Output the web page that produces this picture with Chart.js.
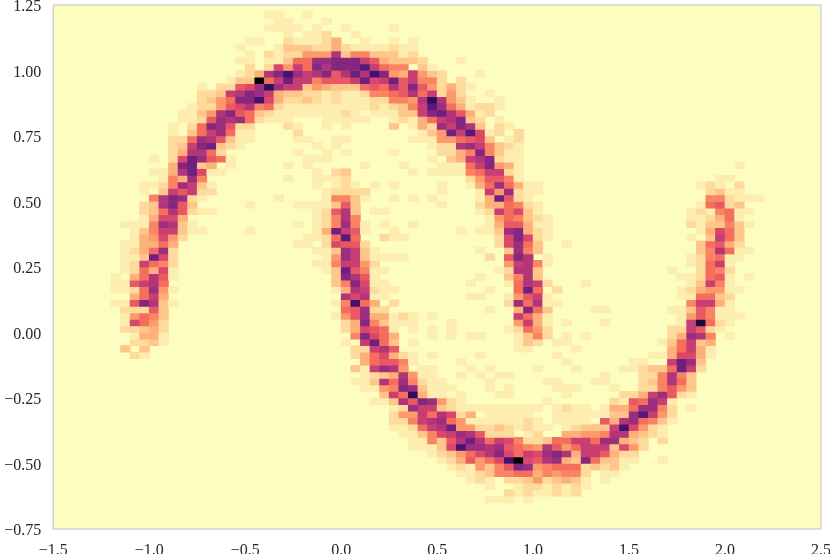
<!DOCTYPE html>
<html>
<head>
<meta charset="utf-8">
<style>
html, body { margin: 0; padding: 0; background: #fff; }
canvas { display: block; }
</style>
<script src="https://cdn.jsdelivr.net/npm/chart.js@4"></script>
</head>
<body>
<canvas id="hist" width="830" height="554"></canvas>
<script>
// tick labels
const xTickLabels = ['\u22121.5', '\u22121.0', '\u22120.5', '0.0', '0.5', '1.0', '1.5', '2.0', '2.5'];
const yTickLabels = ['\u22120.75', '\u22120.50', '\u22120.25', '0.00', '0.25', '0.50', '0.75', '1.00', '1.25'];

// bins: 80 x 80 over the axis range
const xBinStart = -1.5, xBinSize = 0.05, xBinCount = 80;
const yBinTop = 1.25, yBinSize = 0.025;

// counts, one entry per row from the top.
// each row is pairs of (first column, run of base-36 counts), empty cells left out
const rowRuns = [
  [],
  [22,'11', 26,'1'],
  [23,'11', 28,'1'],
  [22,'1111', 27,'1', 30,'1', 35,'1'],
  [24,'1', 26,'112', 31,'1'],
  [20,'11', 24,'211124', 32,'1', 35,'1', 37,'1'],
  [19,'1', 23,'133322421111211'],
  [20,'1', 22,'2122555b36633312'],
  [19,'11', 22,'11377ccddda843332', 42,'1'],
  [20,'2', 22,'295a7dbdddfa766', 38,'31'],
  [19,'124bdgcabd8bebgd54a532', 44,'1'],
  [18,'133k7aeaa6888ae9ae8a662', 42,'2'],
  [15,'1', 17,'2289chcaa354333787b8d852421'],
  [15,'223abdca43322121126678b7a252', 45,'1'],
  [15,'2357ddg9422321211122665bhb531', 46,'1'],
  [14,'122589b67211111111121236afc741221'],
  [13,'1135bd873211111112101113' + '3adeb8412'],
  [13,'1128cbc72111', 28,'11111', 35,'12147abd32', 46,'1'],
  [12,'1', 14,'27dc822', 24,'21', 28,'1', 30,'1', 35,'3', 37,'142cadb3', 46,'21'],
  [12,'1', 14,'37ac711', 25,'2', 38,'135eaf912', 48,'2'],
  [12,'227cb8311', 25,'11', 29,'11', 37,'111557893', 47,'12'],
  [12,'23ade321', 27,'1', 29,'1', 39,'122bca6321'],
  [12,'24bb72', 25,'1', 28,'1', 30,'1', 35,'1', 40,'2246d6311'],
  [10,'1', 12,'29ec871', 26,'111', 39,'1', 41,'34abd211'],
  [12,'4de34', 18,'1', 24,'1', 26,'1', 32,'1', 36,'1', 40,'1117ad541', 71,'1'],
  [10,'114be911', 27,'1', 29,'23', 37,'1', 39,'111167aa21'],
  [11,'164c6', 24,'1', 27,'1112', 43,'258861', 69,'11'],
  [9,'1126ca31', 27,'1', 29,'121', 33,'1', 35,'1', 40,'1', 43,'147c7411', 67,'121', 71,'2'],
  [9,'1', 11,'3a8a22', 28,'12222', 40,'1', 44,'1a5c211', 68,'2311'],
  [10,'6bdc21', 23,'1', 28,'16631', 35,'1', 37,'1', 39,'1', 44,'14e821', 68,'662111'],
  [9,'23bd83', 20,'1', 25,'1111383', 40,'1', 44,'2447621', 67,'17823'],
  [9,'237b8211', 27,'128b3', 33,'11', 44,'12a7931', 66,'1216711'],
  [9,'14994', 27,'126b6', 45,'1576321', 66,'112471'],
  [7,'1116cb31', 25,'1', 27,'126c61', 34,'1', 37,'1', 45,'1488411', 66,'2133631'],
  [8,'136aa311', 20,'1', 27,'14ea81', 35,'1', 42,'1', 44,'113cd421', 67,'14973'],
  [8,'145952', 26,'1127f7', 34,'211', 46,'29d921', 66,'1', 68,'3a73'],
  [7,'114474', 25,'11', 28,'29882', 46,'29c73', 53,'1', 67,'37842'],
  [7,'1247c2', 27,'113ca31', 44,'1', 47,'3c63', 67,'36b711'],
  [7,'113e92', 28,'15ca31111', 45,'2', 47,'8db', 51,'1', 66,'126711'],
  [7,'12a762', 27,'116aa52', 47,'5ab61', 66,'127a1'],
  [7,'127491', 28,'13e8611', 46,'12bb3', 64,'1', 67,'2762'],
  [6,'1', 8,'47b81', 29,'3db81', 44,'1', 47,'36b3', 65,'112781', 72,'1'],
  [6,'118ab7', 29,'36d911', 43,'1', 47,'17ba2', 55,'1', 66,'13a61'],
  [6,'1127c51', 29,'14ba211', 45,'1', 48,'7e7', 52,'2', 65,'1245511'],
  [8,'47a4', 30,'b9b11', 43,'11', 47,'158a1', 65,'117732'],
  [6,'118db31', 29,'16g74', 35,'2', 47,'2c7b11', 66,'6aa41'],
  [7,'22283', 30,'78c22', 45,'1', 48,'4d73', 56,'11', 64,'1138611'],
  [7,'15763', 29,'158c44121', 39,'1', 48,'a741', 65,'1586111'],
  [7,'19752', 30,'24d63111', 41,'1', 48,'5a41', 53,'1', 57,'1', 65,'1ai721'],
  [7,'22342', 30,'249871', 37,'1', 39,'1', 41,'1', 47,'12752', 64,'22a821'],
  [8,'1441', 31,'6d974', 39,'1', 41,'1', 43,'11', 48,'1362', 53,'1', 55,'1', 64,'24cb6', 70,'1'],
  [8,'2231', 30,'1', 32,'ae73', 37,'1', 48,'132', 52,'11', 63,'137a34'],
  [7,'3', 9,'3', 31,'22ab8', 48,'11', 54,'1', 64,'47a41'],
  [8,'21', 31,'2479421', 39,'1', 44,'1', 52,'1', 62,'1149941'],
  [32,'478861', 42,'1', 53,'1', 60,'11', 64,'aec3'],
  [31,'31acb5', 38,'11', 43,'1', 45,'1', 50,'1', 54,'1', 59,'112337ea2'],
  [32,'1234b511', 42,'1', 44,'1', 46,'11', 57,'1', 61,'226b63'],
  [31,'113b7c6211', 45,'1', 51,'11', 56,'11', 61,'236b73'],
  [32,'1156dc3111', 45,'1', 47,'1', 52,'111', 58,'1', 61,'226853'],
  [34,'3a7h411', 42,'1', 46,'11', 53,'1', 59,'224ac821'],
  [33,'113b8dc521', 51,'1', 58,'2187ca1'],
  [35,'12caa32111111111', 52,'1211', 57,'1447cc62', 66,'1'],
  [35,'255a7b924', 45,'11111', 52,'111111', 58,'33cfa52'],
  [35,'226abc7511111121', 52,'1111', 57,'84bc7631'],
  [35,'1127abe5522321211', 53,'12333ag9521'],
  [36,'11369acb8222', 49,'12', 53,'44556bb4321'],
  [37,'11638beb7a9622377aa7cc432', 63,'2'],
  [37,'11139gccbc8765b857aaa3952'],
  [39,'123579bd97a9cdb4aa8422'],
  [40,'1248579gk98bc43d73311', 63,'1'],
  [41,'1215368dc5677723231'],
  [42,'11236677465662', 57,'11'],
  [43,'121', 47,'223523431', 57,'1'],
  [45,'1', 48,'12212121'],
  [47,'21211212'],
  [45,'111', 49,'1']
];
const maxCount = 20;

// magma_r
const magmaStops = ['#fcfdbf','#fecf92','#fe9f6d','#f7705c','#de4968','#b73779','#8c2981','#641a80','#3b0f70','#140e36','#000004'];

function hexToRgb(h) {
  return [1, 3, 5].map(i => parseInt(h.slice(i, i + 2), 16));
}
function countColor(v) {
  const p = Math.pow(v / maxCount, 1.12) * (magmaStops.length - 1);
  const i = Math.min(Math.floor(p), magmaStops.length - 2);
  const a = hexToRgb(magmaStops[i]), b = hexToRgb(magmaStops[i + 1]);
  const c = a.map((n, k) => Math.round(n + (b[k] - n) * (p - i)));
  return 'rgb(' + c.join(',') + ')';
}

const xLabels = [];
for (let c = 0; c < xBinCount; c++) xLabels.push((xBinStart + (c + 0.5) * xBinSize).toFixed(3));

// one floating-bar dataset per histogram row
const datasets = rowRuns.map((runs, r) => {
  const top = yBinTop - r * yBinSize;
  const data = new Array(xBinCount).fill(null);
  const colors = new Array(xBinCount).fill('rgba(0,0,0,0)');
  for (let s = 0; s < runs.length; s += 2) {
    const digits = runs[s + 1];
    for (let k = 0; k < digits.length; k++) {
      const v = parseInt(digits[k], 36);
      if (v > 0) {
        data[runs[s] + k] = [top - yBinSize, top];
        colors[runs[s] + k] = countColor(v);
      }
    }
  }
  return { data: data, backgroundColor: colors, borderWidth: 0, grouped: false,
           barPercentage: 1, categoryPercentage: 1, xAxisID: 'x', yAxisID: 'y' };
});

const frame = {
  id: 'frame',
  beforeDraw(chart) {
    // liberation serif sits a bit high on 'middle'
    chart.scales.y.getLabelItems().forEach(item => { item.textOffset = 2; });
  },
  beforeDatasetsDraw(chart) {
    const a = chart.chartArea, ctx = chart.ctx;
    ctx.save();
    ctx.fillStyle = magmaStops[0];
    ctx.fillRect(a.left, a.top, a.width, a.height);
    ctx.restore();
  },
  afterDraw(chart) {
    const a = chart.chartArea, ctx = chart.ctx;
    ctx.save();
    ctx.strokeStyle = '#cccccc';
    ctx.lineWidth = 1.25;
    ctx.strokeRect(a.left, a.top, a.width, a.height);
    ctx.restore();
  }
};

const tickFont = { family: '"Liberation Serif"', size: 16 };

// labels may hang past the plot area, as in the reference
function noOverhang(s) {
  s.paddingLeft = s.paddingRight = s.paddingTop = s.paddingBottom = 0;
}

new Chart(document.getElementById('hist'), {
  type: 'bar',
  data: { labels: xLabels, datasets: datasets },
  plugins: [frame],
  options: {
    responsive: false,
    animation: false,
    events: [],
    layout: { autoPadding: false, padding: { left: 0, right: 9, top: 5, bottom: 0 } },
    plugins: { legend: { display: false }, tooltip: { enabled: false } },
    scales: {
      x: { type: 'category', display: false },
      xTicks: {
        type: 'linear', axis: 'x', position: 'bottom', min: -1.5, max: 2.5, offset: false,
        grid: { display: false, offset: false }, border: { display: false },
        ticks: { stepSize: 0.5, maxRotation: 0, autoSkip: false, padding: 4, color: '#262626', font: tickFont,
                 callback: (v, i) => xTickLabels[i] },
        afterFit(s) { s.height = 25; noOverhang(s); }
      },
      y: {
        type: 'linear', min: -0.75, max: 1.25,
        grid: { display: false }, border: { display: false },
        ticks: { stepSize: 0.25, autoSkip: false, padding: 4, color: '#262626', font: tickFont,
                 callback: (v, i) => yTickLabels[i] },
        afterFit(s) { s.width = 53.3; noOverhang(s); }
      }
    }
  }
});
</script>
</body>
</html>
